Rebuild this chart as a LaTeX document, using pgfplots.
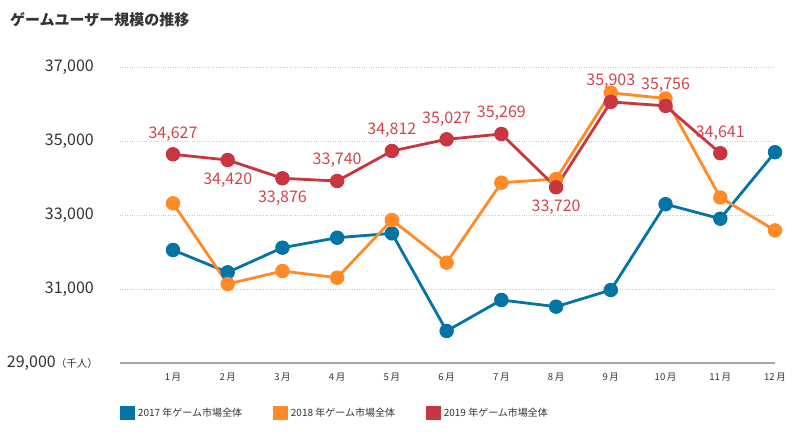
\documentclass[border=0pt]{standalone}
\usepackage{fontspec}
\setmainfont{Noto Sans CJK JP}
\usepackage{pgfplots}
\pgfplotsset{compat=1.18}
\usepackage{pgfplotstable}
\definecolor{c17}{RGB}{4,115,165}
\definecolor{c18}{RGB}{255,138,38}
\definecolor{c19}{RGB}{200,55,65}
\definecolor{lab19}{RGB}{210,68,75}
\definecolor{txt}{RGB}{51,51,51}
\definecolor{gridc}{RGB}{200,200,200}
\tikzset{labelsty/.style={text=lab19, inner sep=0pt, outer sep=13bp, font=\fontsize{16bp}{19bp}\selectfont}}

\pgfplotstableread{
m v17 v18
1 32054 33316
2 31451 31135
3 32116 31486
4 32386 31305
5 32505 32865
6 29865 31711
7 30703 33873
8 30522 33973
9 30973 36303
10 33292 36149
11 32900 33473
12 34697 32584
}\dataA

\pgfplotstableread{
m v19
1 34641
2 34486
3 33992
4 33919
5 34730
6 35046
7 35189
8 33749
9 36057
10 35949
11 34670
}\dataB

% labels shown above the points
\pgfplotstableread{
m v19 lab
1 34641 34,627
4 33919 33,740
5 34730 34,812
6 35046 35,027
7 35189 35,269
9 36057 35,903
10 35949 35,756
11 34670 34,641
}\dataUp

% labels shown below the points
\pgfplotstableread{
m v19 lab
2 34486 34,420
3 33992 33,876
8 33749 33,720
}\dataDown

\begin{document}
\begin{tikzpicture}[x=1bp,y=1bp]
\useasboundingbox (0,0) rectangle (810,431);
\node[anchor=west, inner sep=0pt, text=txt, font=\fontsize{15bp}{18bp}\selectfont\bfseries] at (10,411) {ゲームユーザー規模の推移};
\begin{axis}[
  at={(120bp,68bp)}, anchor=south west,
  scale only axis, width=655bp, height=296bp,
  xmin=0.032, xmax=12, ymin=29000, ymax=37000,
  clip=false,
  scaled ticks=false,
  axis line style={draw=none},
  tick style={draw=none},
  major tick length=0pt,
  xtick={1,...,12},
  xticklabels={1\,月,2\,月,3\,月,4\,月,5\,月,6\,月,7\,月,8\,月,9\,月,10\,月,11\,月,12\,月},
  xticklabel style={font=\fontsize{9.5bp}{11bp}\selectfont, text=txt, inner sep=0pt, yshift=-10bp},
  ytick={31000,33000,35000,37000},
  yticklabels={31{,}000,33{,}000,35{,}000,37{,}000},
  yticklabel style={font=\fontsize{16bp}{19bp}\selectfont, text=txt, inner sep=0pt, anchor=east, xshift=-26bp},
  ymajorgrids,
  major grid style={gridc, dotted, line width=0.9bp},
  extra y ticks={29000},
  extra y tick labels={29{,}000{\fontsize{10.5bp}{12bp}\selectfont（千人）}},
  extra y tick style={grid=major, major grid style={solid, color=black!35, line width=1.2bp}, yticklabel style={xshift=4bp}},
  legend style={at={(0,-0.169)}, anchor=west, draw=none, fill=none, inner sep=0pt,
    legend columns=3, font=\fontsize{10bp}{12bp}\selectfont, text=txt,
    /tikz/every even column/.append style={column sep=29bp},
    /tikz/every odd column/.append style={column sep=1bp}},
  legend cell align=left,
]
\addplot[c17, line width=2.8bp, mark=*, mark size=5.8bp, mark options={draw=none, fill=c17},
  legend image code/.code={\fill[c17] (0bp,-6bp) rectangle (12bp,6bp);}]
  table[x=m, y=v17]{\dataA};
\addlegendentry{2017 年ゲーム市場全体}
\addplot[c18, line width=2.8bp, mark=*, mark size=5.8bp, mark options={draw=none, fill=c18},
  legend image code/.code={\fill[c18] (0bp,-6bp) rectangle (12bp,6bp);}]
  table[x=m, y=v18]{\dataA};
\addlegendentry{2018 年ゲーム市場全体}
\addplot[c19, line width=2.8bp, mark=*, mark size=5.8bp, mark options={draw=none, fill=c19},
  legend image code/.code={\fill[c19] (0bp,-6bp) rectangle (12bp,6bp);}]
  table[x=m, y=v19]{\dataB};
\addlegendentry{2019 年ゲーム市場全体}
\addplot[draw=none, mark=none, forget plot, point meta=explicit symbolic, nodes near coords,
  every node near coord/.append style={labelsty, anchor=south}]
  table[x=m, y=v19, meta=lab]{\dataUp};
\addplot[draw=none, mark=none, forget plot, point meta=explicit symbolic, nodes near coords,
  every node near coord/.append style={labelsty, anchor=north}]
  table[x=m, y=v19, meta=lab]{\dataDown};
\end{axis}
\end{tikzpicture}
\end{document}
